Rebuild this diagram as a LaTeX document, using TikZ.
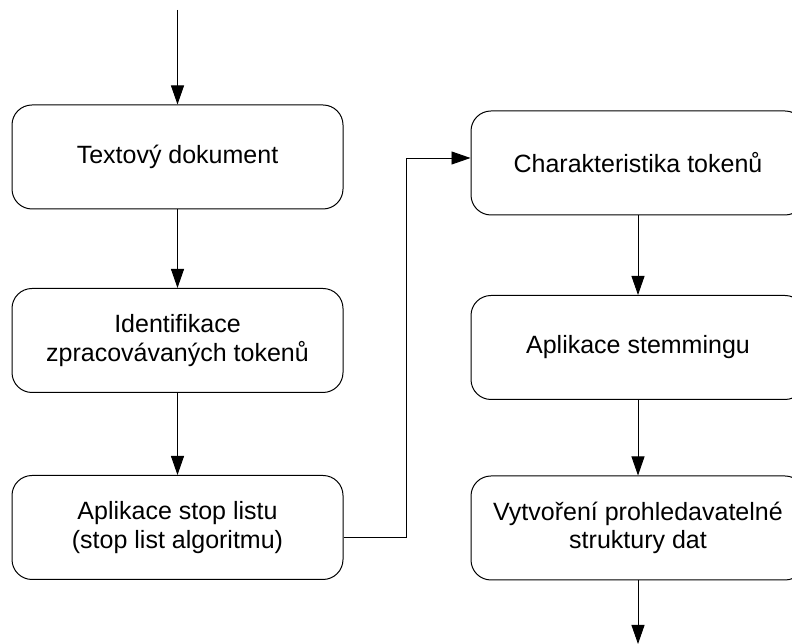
\documentclass[tikz,border=0pt]{standalone}
\usepackage{fontspec}
\setmainfont{Liberation Sans}
\usetikzlibrary{arrows.meta,calc}
\tikzset{
  procbox/.style={draw, line width=1pt, rounded corners=20pt, minimum width=331pt, minimum height=104pt, inner sep=0pt, align=center, font=\fontsize{25}{28.5}\selectfont},
  flow/.style={draw, line width=0.9pt, -{Triangle[length=19pt,width=13pt]}},
  plain/.style={draw, line width=0.9pt}
}
\begin{document}
\begin{tikzpicture}[x=1pt,y=1pt]
\useasboundingbox (0,0) rectangle (792,644);
\clip (0,0) rectangle (792,644);
\node[procbox] (L1) at (177.5,487) {Textový dokument};
\node[procbox] (L2) at (177.5,303.5) {Identifikace\\zpracovávaných tokenů};
\node[procbox] (L3) at (177.5,116.5) {Aplikace stop listu\\(stop list algoritmu)};
\node[procbox, minimum width=334pt] (R1) at (638,481) {Charakteristika tokenů};
\node[procbox, minimum width=334pt] (R2) at (638,296.5) {Aplikace stemmingu};
\node[procbox, minimum width=334pt] (R3) at (638,116) {Vytvoření prohledavatelné\\struktury dat};
\coordinate (top) at (177.5,634);
\coordinate (bot) at (638,0);
\coordinate (c1) at ($(L3.east)+(0,-10)$);
\coordinate (c2) at (406,106.5);
\coordinate (c3) at (406,486);
\coordinate (c4) at (R1.west |- c3);
\draw[flow] (top) -- (L1.north);
\draw[flow] (L1.south) -- (L2.north);
\draw[flow] (L2.south) -- (L3.north);
\draw[flow] (c1) -- (c2) -- (c3) -- (c4);
\draw[flow] (R1.south) -- (R2.north);
\draw[flow] (R2.south) -- (R3.north);
\draw[flow] (R3.south) -- (bot);
\end{tikzpicture}
\end{document}
